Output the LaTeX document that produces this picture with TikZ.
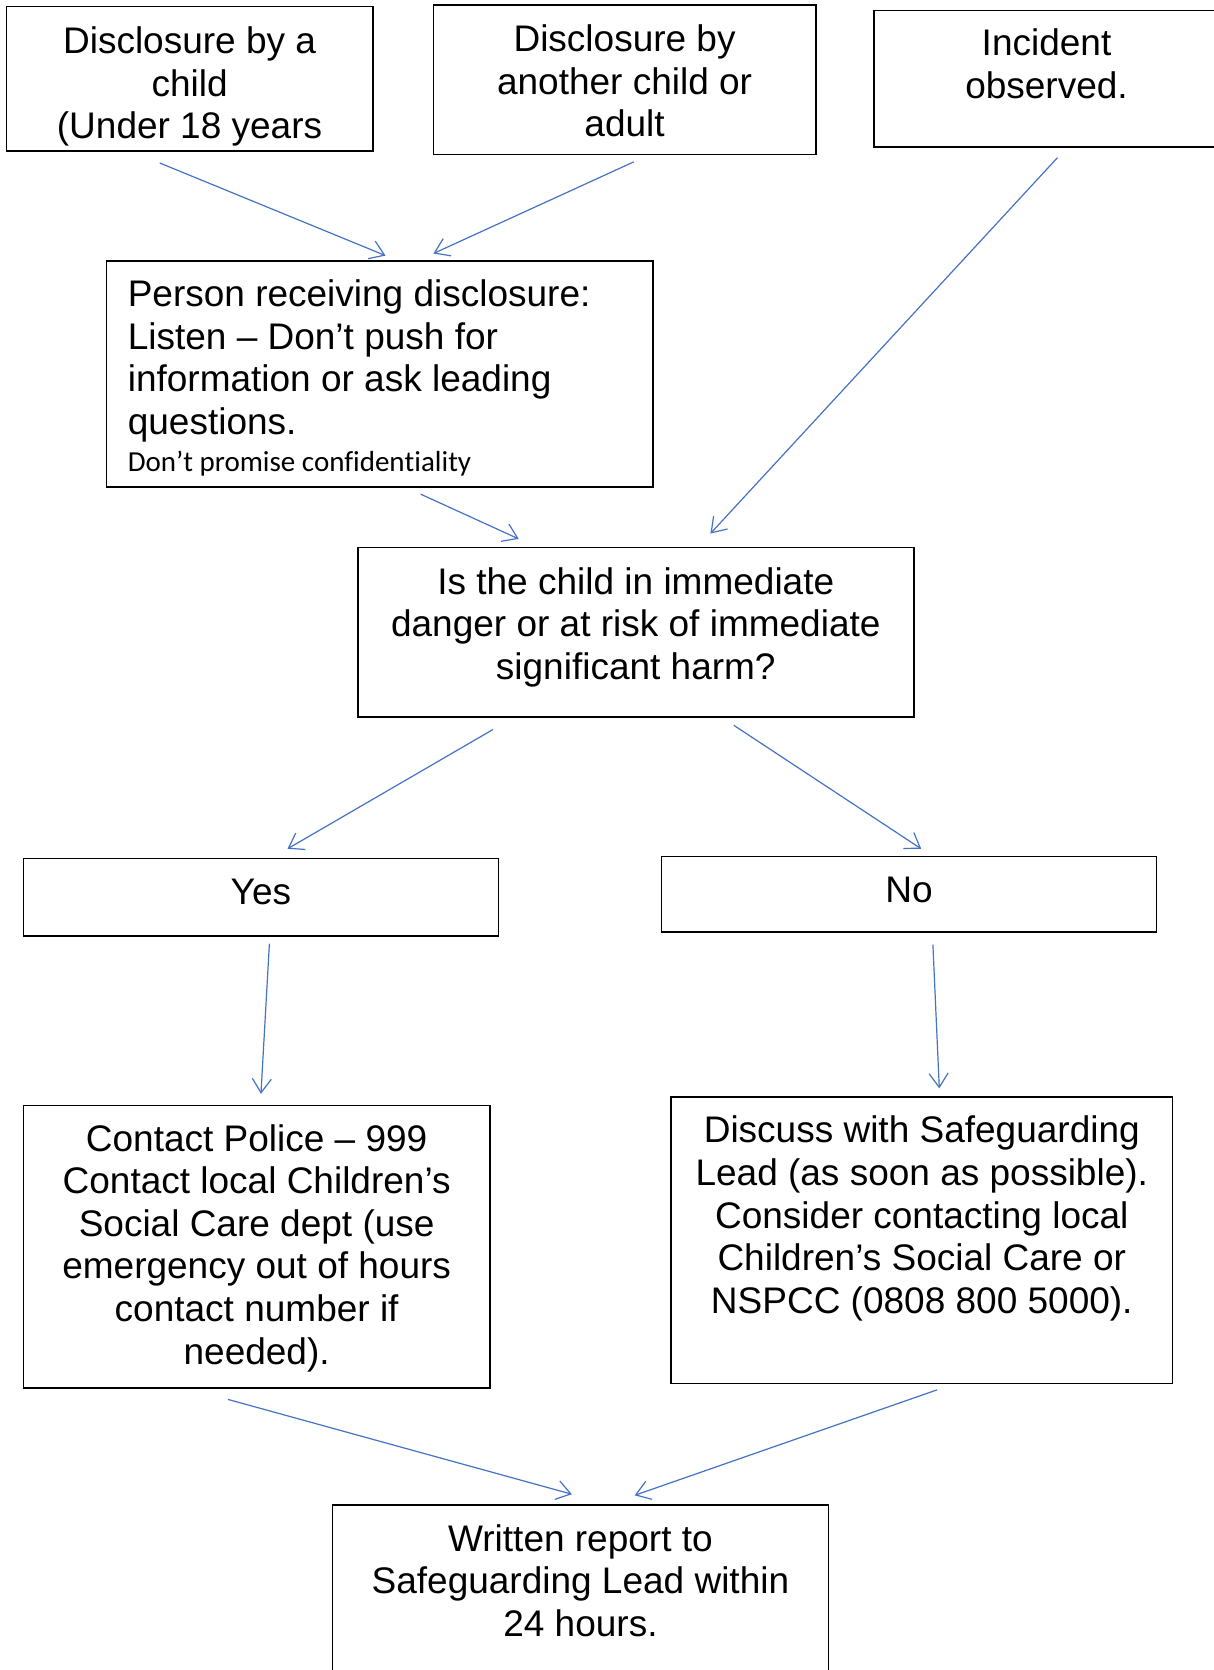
\documentclass[tikz,border=0pt]{standalone}
\usepackage{fontspec}
\setmainfont{Liberation Sans}
\newfontfamily\calib[Ligatures=NoCommon]{Carlito}
\usetikzlibrary{arrows.meta,calc}
\definecolor{arrblue}{HTML}{4472C4}
\newcommand\bxtext[4]{\parbox[c][#2pt][t]{#1pt}{\vspace*{#3pt}\centering\strut #4\par}}
\tikzset{
  box/.style={draw=black, line width=1.6pt, inner sep=0pt, outer sep=0pt, anchor=north west,
              font=\fontsize{37}{42.6}\selectfont},
  arr/.style={draw=arrblue, line width=1.2pt, -{Straight Barb[length=14pt,width=19pt]}}
}
\begin{document}
\begin{tikzpicture}[x=1pt,y=-1pt]
\useasboundingbox (0,0) rectangle (1214,1670);
\fill[white] (0,0) rectangle (1214,1670);

\node[box] (b1) at (6.4,6.4) {\bxtext{366.3}{144.8}{17.5}{Disclosure by a\\ child\\ (Under 18 years}};
\node[box] (b2) at (433.4,5.3) {\bxtext{382.4}{149.1}{16.6}{Disclosure by\\ another child or\\ adult}};
\node[box] (b3) at (874,10.6) {\bxtext{345}{136.4}{15.3}{Incident\\ observed.}};
\node[box] (b4) at (106.5,261) {\parbox[c][225.7pt][t]{546.3pt}{\vspace*{15.8pt}\raggedright\leftskip=21.3pt
  \strut Person receiving disclosure:\\ Listen – Don’t push for\\ information or ask leading\\ questions.\par
  {\calib\fontsize{29}{37.2}\selectfont Don’t promise conf\kern0pt iden\kern0pt t\kern0pt iali\kern0pt t\kern0pt y\par}}};
\node[box] (b5) at (357.8,547.4) {\bxtext{556}{169.3}{17}{Is the child in immediate\\ danger or at risk of immediate\\ significant harm?}};
\node[box] (b6) at (23.4,858.4) {\bxtext{475}{77.7}{16.5}{Yes}};
\node[box] (b7) at (661.4,856.3) {\bxtext{495.2}{75.6}{16.6}{No}};
\node[box] (b8) at (23.4,1105.5) {\bxtext{466.5}{282.2}{15.7}{Contact Police – 999\\ Contact local Children’s\\ Social Care dept (use\\ emergency out of hours\\ contact number if\\ needed).}};
\node[box] (b9) at (671,1097) {\bxtext{501.6}{286.4}{16}{Discuss with Safeguarding\\ Lead (as soon as possible).\\ Consider contacting local\\ Children’s Social Care or\\ NSPCC (0808 800 5000).}};
\node[box] (b10) at (332.3,1504.8) {\bxtext{496.3}{175}{16.5}{Written report to\\ Safeguarding Lead within\\ 24 hours.}};

\draw[arr] ($(b1.south)+(-29.8,11.8)$) -- ($(b4.north)+(5.9,-5.4)$);
\draw[arr] ($(b2.south)+(9.1,7.5)$) -- ($(b4.north)+(53.8,-7.5)$);
\draw[arr] ($(b3.south)+(11,10.6)$) -- ($(b5.north)+(74.6,-13.8)$);
\draw[arr] ($(b4.south)+(41.1,7.5)$) -- ($(b5.north)+(-117.1,-8.5)$);
\draw[arr] ($(b5.south)+(-142.8,12.8)$) -- ($(b6.north)+(26.6,-9.6)$);
\draw[arr] ($(b5.south)+(98,8.6)$) -- ($(b7.north)+(12.2,-7.5)$);
\draw[arr] ($(b6.south)+(8.5,7.5)$) -- ($(b8.north)+(4.3,-11.7)$);
\draw[arr] ($(b7.south)+(23.9,12.8)$) -- ($(b9.north)+(17.5,-8.6)$);
\draw[arr] ($(b8.south)+(-28.7,11.7)$) -- ($(b10.north)+(-8.6,-10.6)$);
\draw[arr] ($(b9.south)+(15.4,6.4)$) -- ($(b10.north)+(54.2,-9.5)$);
\end{tikzpicture}
\end{document}
